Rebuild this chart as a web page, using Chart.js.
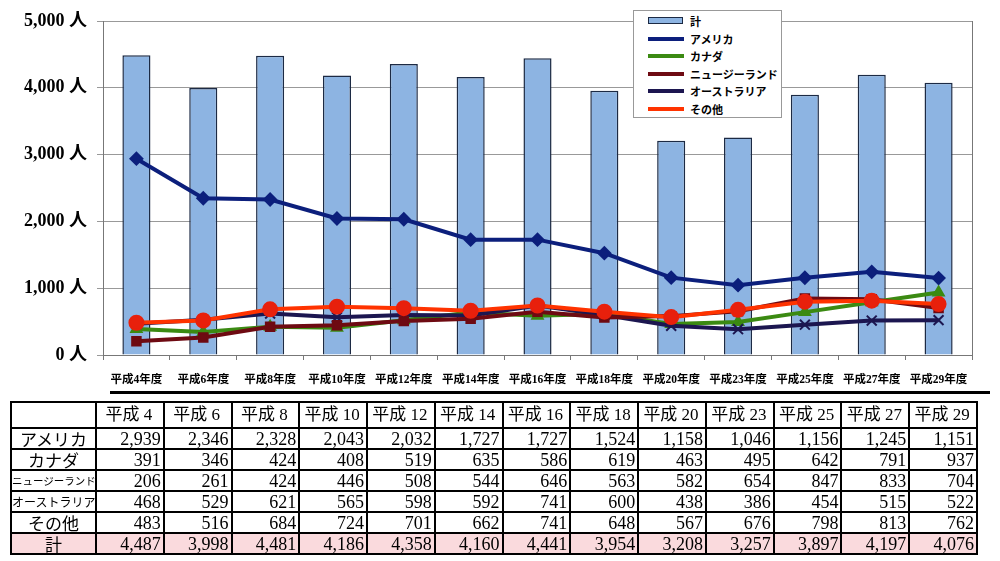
<!DOCTYPE html>
<html>
<head>
<meta charset="utf-8">
<script src="https://cdn.jsdelivr.net/npm/chart.js@4/dist/chart.umd.min.js"></script>
<style>
  body { margin: 0; background: #fff; width: 1000px; height: 561px; position: relative; overflow: hidden; }
  #wrap { position: absolute; left: 0; top: 0; width: 1000px; height: 395px; }
  #legend { position: absolute; left: 633px; top: 10px; width: 147px; height: 106px; background: #fff; border: 1px solid #999;
            font: bold 11px "Noto Sans CJK JP", sans-serif; }
  .item { position: absolute; left: 14px; height: 14px; line-height: 14px; }
  .item span.sw { position: absolute; left: 0; top: 5px; width: 36px; height: 4px; }
  .item span.tx { position: absolute; left: 42px; top: 0; white-space: nowrap; }
  #rule { position: absolute; left: 110px; top: 391px; width: 880px; height: 3px; background: #000; }
  table { position: absolute; left: 10px; top: 401px; width: 968px; border-collapse: collapse; table-layout: fixed; }
  td { border: 2px solid #000; padding: 0 2px 0 0; text-align: right; height: 19px;
       font: 18px "Liberation Serif", "Noto Sans CJK JP", serif; line-height: 18px; overflow: hidden; white-space: nowrap; }
  tr.head td { height: 24px; text-align: center; font-size: 17px; }
  td.lab { text-align: center; font-family: "Noto Sans CJK JP", sans-serif; padding: 0; }
  tr.total td { background: #fadadd; }
</style>
</head>
<body>
<div id="wrap"><canvas id="chart" width="1000" height="395"></canvas></div>
<div id="legend"></div>
<div id="rule"></div>
<table id="tbl"></table>
<script>
const years = ['平成4', '平成6', '平成8', '平成10', '平成12', '平成14', '平成16', '平成18', '平成20', '平成23', '平成25', '平成27', '平成29'];
const america = [2939, 2346, 2328, 2043, 2032, 1727, 1727, 1524, 1158, 1046, 1156, 1245, 1151];
const canada = [391, 346, 424, 408, 519, 635, 586, 619, 463, 495, 642, 791, 937];
const newZealand = [206, 261, 424, 446, 508, 544, 646, 563, 582, 654, 847, 833, 704];
const australia = [468, 529, 621, 565, 598, 592, 741, 600, 438, 386, 454, 515, 522];
const others = [483, 516, 684, 724, 701, 662, 741, 648, 567, 676, 798, 813, 762];
const total = [4487, 3998, 4481, 4186, 4358, 4160, 4441, 3954, 3208, 3257, 3897, 4197, 4076];
const yTicks = [0, 1000, 2000, 3000, 4000, 5000];

const xLabels = years.map(y => y + '年度');

function line(label, data, color, style, radius, order, pointColor) {
  return {
    type: 'line', label: label, data: data, order: order,
    borderColor: color, borderWidth: 4,
    pointStyle: style, pointRadius: radius,
    pointBackgroundColor: pointColor || color, pointBorderColor: pointColor || color, pointBorderWidth: 2
  };
}

const datasets = [
  { type: 'bar', label: '計', data: total, order: 10,
    backgroundColor: '#8db4e2', borderColor: '#1c2a44', borderWidth: 1.5,
    barPercentage: 0.42, categoryPercentage: 1 },
  line('アメリカ', america, '#0c1f7c', 'rectRot', 6, 4),
  line('カナダ', canada, '#3b8a12', 'triangle', 6, 3),
  line('ニュージーランド', newZealand, '#6e0a12', 'rect', 6, 1),
  line('オーストラリア', australia, '#1c1650', 'crossRot', 7, 2),
  line('その他', others, '#ff3300', 'circle', 7, 0, '#e8200c')
];

// right border of the plot
const frame = {
  id: 'frame',
  afterDraw(chart) {
    const a = chart.chartArea, c = chart.ctx;
    c.save();
    c.strokeStyle = '#777';
    c.lineWidth = 1;
    c.beginPath();
    c.moveTo(a.right + 0.5, a.top);
    c.lineTo(a.right + 0.5, a.bottom);
    c.stroke();
    c.restore();
  }
};

new Chart(document.getElementById('chart'), {
  data: { labels: xLabels, datasets: datasets },
  plugins: [frame],
  options: {
    responsive: false,
    animation: false,
    layout: { padding: { top: 21, right: 28, left: 0, bottom: 0 } },
    plugins: { legend: { display: false }, tooltip: { enabled: false } },
    scales: {
      x: {
        afterFit: s => { s.height = 40; },
        grid: { offset: true, drawOnChartArea: false, tickLength: 5, color: '#777' },
        border: { color: '#777' },
        ticks: { color: '#000', padding: 13, maxRotation: 0, autoSkip: false,
                 font: { family: '"Liberation Serif", "Noto Sans CJK JP", serif', size: 11.5, weight: 'bold' } }
      },
      y: {
        min: 0, max: 5000,
        afterFit: s => { s.width = 103; },
        afterBuildTicks: s => { s.ticks = yTicks.map(v => ({ value: v })); },
        grid: { color: '#999', tickLength: 6 },
        border: { color: '#777' },
        ticks: { color: '#000', padding: 10,
                 font: { family: '"Liberation Serif", "Noto Sans CJK JP", serif', size: 18, weight: 'bold' },
                 callback: v => v.toLocaleString('en-US') + ' 人' }
      }
    }
  }
});

// legend
const legend = document.getElementById('legend');
datasets.forEach((d, i) => {
  const it = document.createElement('div');
  it.className = 'item';
  it.style.top = (3 + i * 17.6) + 'px';
  const sw = document.createElement('span');
  sw.className = 'sw';
  if (d.type === 'bar') {
    sw.style.background = d.backgroundColor;
    sw.style.border = '1.5px solid ' + d.borderColor;
    sw.style.top = '3px'; sw.style.height = '5px'; sw.style.width = '33px';
  } else {
    sw.style.background = d.borderColor;
  }
  const tx = document.createElement('span');
  tx.className = 'tx';
  tx.textContent = d.label;
  it.appendChild(sw); it.appendChild(tx);
  legend.appendChild(it);
});

// data table under the chart
const rows = [
  ['アメリカ', america, 17],
  ['カナダ', canada, 17],
  ['ニュージーランド', newZealand, 10.5],
  ['オーストラリア', australia, 12],
  ['その他', others, 17],
  ['計', total, 17]
];
const tbl = document.getElementById('tbl');
const cg = document.createElement('colgroup');
cg.innerHTML = '<col style="width:85px">' + years.map(() => '<col>').join('');
tbl.appendChild(cg);
const head = document.createElement('tr');
head.className = 'head';
head.innerHTML = '<td></td>' + years.map(y => '<td>' + y.replace('平成', '平成 ') + '</td>').join('');
tbl.appendChild(head);
rows.forEach(([name, vals, fs]) => {
  const tr = document.createElement('tr');
  if (name === '計') tr.className = 'total';
  tr.innerHTML = '<td class="lab" style="font-size:' + fs + 'px">' + name + '</td>' +
    vals.map(v => '<td>' + v.toLocaleString('en-US') + '</td>').join('');
  tbl.appendChild(tr);
});
</script>
</body>
</html>
